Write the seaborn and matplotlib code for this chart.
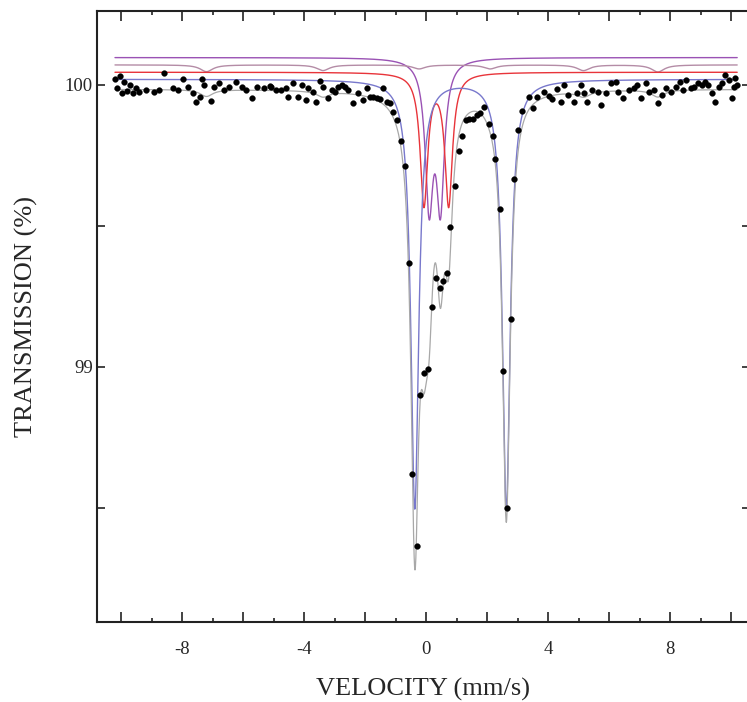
import numpy as np
import pandas as pd
import matplotlib
matplotlib.use("Agg")
import matplotlib.pyplot as plt
from matplotlib.ticker import MultipleLocator, FuncFormatter
import seaborn as sns

# ---------------- data ----------------
velocity = [
    -10.20, -10.12, -10.05, -9.98, -9.90, -9.80, -9.70, -9.60, -9.50, -9.40,
    -9.18, -8.91, -8.75, -8.59, -8.29, -8.13, -7.96, -7.80, -7.63, -7.53,
    -7.40, -7.34, -7.27, -7.04, -6.94, -6.78, -6.61, -6.45, -6.22, -6.05,
    -5.89, -5.72, -5.56, -5.33, -5.13, -5.09, -4.92, -4.76, -4.59, -4.54,
    -4.37, -4.20, -4.06, -3.95, -3.87, -3.71, -3.60, -3.49, -3.38, -3.21,
    -3.10, -2.99, -2.88, -2.77, -2.66, -2.55, -2.40, -2.22, -2.06, -1.95,
    -1.84, -1.73, -1.62, -1.51, -1.40, -1.29, -1.18, -1.07, -0.94, -0.82,
    -0.69, -0.55, -0.45, -0.31, -0.20, -0.07, 0.06, 0.19, 0.33, 0.44,
    0.56, 0.69, 0.79, 0.95, 1.09, 1.19, 1.32, 1.42, 1.55, 1.67,
    1.78, 1.91, 2.05, 2.18, 2.27, 2.41, 2.52, 2.65, 2.79, 2.87,
    3.02, 3.15, 3.37, 3.51, 3.64, 3.86, 4.02, 4.13, 4.30, 4.41,
    4.52, 4.66, 4.85, 4.96, 5.07, 5.17, 5.29, 5.45, 5.62, 5.72,
    5.89, 6.05, 6.22, 6.30, 6.44, 6.65, 6.82, 6.93, 7.04, 7.20,
    7.31, 7.48, 7.59, 7.75, 7.86, 8.03, 8.20, 8.31, 8.42, 8.53,
    8.70, 8.80, 8.92, 9.03, 9.14, 9.25, 9.36, 9.47, 9.59, 9.70,
    9.81, 9.92, 10.03, 10.09, 10.14, 10.20,
]
transmission = [
    100.02, 99.99, 100.03, 99.97, 100.01, 99.98, 100.00, 99.97, 99.99, 99.975,
    99.982, 99.975, 99.982, 100.041, 99.990, 99.982, 100.020, 99.993, 99.970, 99.940,
    99.957, 100.020, 100.000, 99.943, 99.993, 100.007, 99.982, 99.993, 100.010, 99.993,
    99.982, 99.954, 99.993, 99.990, 99.996, 99.994, 99.982, 99.982, 99.988, 99.958,
    100.006, 99.958, 100.000, 99.947, 99.990, 99.976, 99.940, 100.015, 99.994, 99.953,
    99.982, 99.976, 99.994, 100.000, 99.994, 99.982, 99.935, 99.970, 99.947, 99.990,
    99.958, 99.958, 99.953, 99.950, 99.988, 99.940, 99.935, 99.905, 99.876, 99.800,
    99.714, 99.368, 98.620, 98.365, 98.901, 98.978, 98.992, 99.212, 99.315, 99.279,
    99.306, 99.332, 99.497, 99.642, 99.766, 99.820, 99.874, 99.880, 99.880, 99.894,
    99.900, 99.920, 99.860, 99.820, 99.736, 99.560, 98.986, 98.500, 99.170, 99.666,
    99.840, 99.908, 99.956, 99.918, 99.958, 99.976, 99.960, 99.950, 99.985, 99.940,
    100.000, 99.965, 99.940, 99.973, 100.000, 99.970, 99.940, 99.982, 99.976, 99.930,
    99.973, 100.006, 100.012, 99.975, 99.953, 99.982, 99.988, 100.000, 99.953, 100.006,
    99.976, 99.982, 99.937, 99.965, 99.988, 99.976, 99.994, 100.012, 99.982, 100.018,
    99.988, 99.994, 100.006, 100.000, 100.010, 100.000, 99.970, 99.940, 99.994, 100.006,
    100.035, 100.018, 99.953, 99.994, 100.024, 100.000,
]

# fitted sub-spectra (Lorentzian line parameters)
blue_base, blue_centers, blue_depths, blue_hwhm = 100.020, [-0.37, 2.63], [1.52, 1.52], 0.155
red_base, red_centers, red_depths, red_hwhm = 100.045, [-0.07, 0.74], [0.465, 0.465], 0.150
purple_base, purple_centers, purple_depths, purple_hwhm = 100.097, [0.10, 0.47], [0.50, 0.50], 0.155
sext_base = 100.071
sext_centers = [-7.20, -3.38, -0.23, 2.10, 5.16, 7.60]
sext_depths = [0.024, 0.020, 0.014, 0.014, 0.020, 0.025]
sext_hwhm = 0.25
total_base = 99.985

# ---------------- model curves ----------------
vgrid = np.linspace(-10.2, 10.2, 3000)

def absorption(centers, depths, hwhm):
    out = np.zeros_like(vgrid)
    for c, d in zip(centers, depths):
        out += d * hwhm**2 / ((vgrid - c) ** 2 + hwhm**2)
    return out

a_blue = absorption(blue_centers, blue_depths, blue_hwhm)
a_red = absorption(red_centers, red_depths, red_hwhm)
a_purple = absorption(purple_centers, purple_depths, purple_hwhm)
a_sext = absorption(sext_centers, sext_depths, sext_hwhm)

curves = pd.DataFrame({
    "v": vgrid,
    "blue": blue_base - a_blue,
    "red": red_base - a_red,
    "purple": purple_base - a_purple,
    "sext": sext_base - a_sext,
    "total": total_base - a_blue - a_red - a_purple - a_sext,
})
points = pd.DataFrame({"v": velocity, "t": transmission})

# ---------------- plot ----------------
sns.set_theme(style="white")
plt.rcParams["font.family"] = ["Liberation Serif", "DejaVu Serif"]

fig = plt.figure(figsize=(7.47, 7.02), dpi=100)
ax = fig.add_axes([97 / 747, 1 - 622 / 702, 653 / 747, 611 / 702])

sns.lineplot(data=curves, x="v", y="purple", ax=ax, color="#9a52b4", lw=1.0)
sns.lineplot(data=curves, x="v", y="sext", ax=ax, color="#b48ca6", lw=1.0)
sns.lineplot(data=curves, x="v", y="red", ax=ax, color="#e8343a", lw=1.0)
sns.lineplot(data=curves, x="v", y="blue", ax=ax, color="#7878cc", lw=1.0)
sns.lineplot(data=curves, x="v", y="total", ax=ax, color="#a8a8a8", lw=0.9)
sns.scatterplot(data=points, x="v", y="t", ax=ax, color="black", s=17,
                edgecolor="black", linewidth=0.3, zorder=5)

ax.set_xlim(-10.79, 10.62)
ax.set_ylim(98.096, 100.262)

ax.xaxis.set_major_locator(MultipleLocator(2))
ax.xaxis.set_minor_locator(MultipleLocator(1))
ax.xaxis.set_major_formatter(FuncFormatter(lambda v, p: f"{v:.0f}" if round(v) % 4 == 0 else ""))
ax.yaxis.set_major_locator(MultipleLocator(1))
ax.yaxis.set_minor_locator(MultipleLocator(0.5))
ax.yaxis.set_major_formatter(FuncFormatter(lambda v, p: f"{v:.0f}"))

ax.tick_params(which="both", direction="in", top=True, right=True, bottom=True, left=True,
               color="#222222", width=1.2)
ax.tick_params(axis="x", which="major", length=7, labelsize=13.5, pad=14)
ax.tick_params(axis="x", which="minor", length=3)
ax.tick_params(axis="y", which="both", length=6, labelsize=13.5, pad=3)

for s in ax.spines.values():
    s.set_color("#222222")
    s.set_linewidth(1.5)

ax.set_xlabel("VELOCITY (mm/s)", fontsize=19, labelpad=14)
ax.set_ylabel("TRANSMISSION (%)", fontsize=19, labelpad=19)

fig.savefig("out.png", dpi=100)
